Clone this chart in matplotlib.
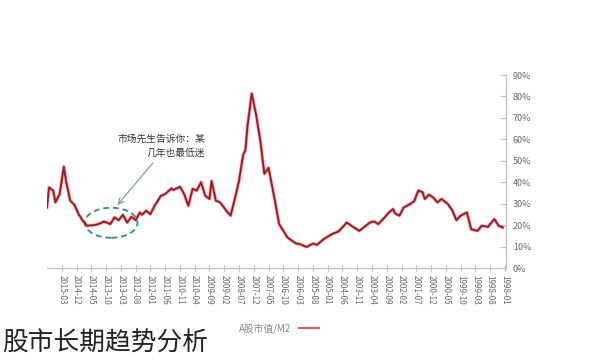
import matplotlib
matplotlib.use("Agg")
import matplotlib.pyplot as plt
from matplotlib.patches import Ellipse
from matplotlib.lines import Line2D

plt.rcParams['font.family'] = ['Noto Sans CJK SC', 'DejaVu Sans']

# month index counted from 1998-01, ratio of A-share market cap to M2 (%)
months = [1, 3, 5, 7, 8, 11, 13, 16, 18, 21, 23, 25, 27, 30, 32, 34, 36, 38, 39, 41,
          42, 43, 45, 48, 50, 52, 53, 55, 57, 60, 62, 64, 67, 69, 72, 75, 77, 79, 82, 86,
          89, 91, 94, 97, 99, 103, 105, 107, 109, 112, 114, 116, 118, 120, 122, 123, 124, 126, 128, 130,
          132, 135, 137, 139, 140, 142, 144, 146, 148, 150, 152, 154, 157, 158, 161, 163, 166, 168, 170, 172,
          173, 175, 177, 179, 181, 183, 185, 187, 190, 192, 194, 198, 200, 202, 204, 206, 208, 209, 211, 213,
          214, 216, 217]
ratio = [18.9, 19.7, 22.8, 20.5, 19.2, 19.7, 17.3, 18.1, 25.9, 24.4, 22.3, 27.0, 29.8, 32.2, 30.6, 32.9, 34.2, 32.2, 35.3, 36.1,
         33.7, 31.1, 29.8, 28.2, 24.4, 25.4, 27.5, 25.9, 23.6, 20.5, 21.7, 21.2, 18.9, 17.3, 19.2, 21.2, 18.9, 17.0, 15.8, 13.4,
         10.8, 11.4, 9.8, 11.1, 11.4, 14.2, 17.3, 20.5, 31.4, 46.7, 43.9, 60.0, 72.0, 81.4, 66.0, 54.8, 53.0, 40.7, 32.2, 24.4,
         26.7, 30.6, 31.4, 40.6, 32.2, 33.7, 40.0, 36.1, 36.9, 29.0, 34.5, 37.9, 36.4, 37.1, 34.5, 33.7, 29.0, 25.1, 26.7, 24.8,
         25.9, 22.3, 23.9, 21.2, 24.8, 22.3, 23.6, 20.5, 21.7, 20.7, 20.1, 19.7, 22.0, 25.1, 29.5, 31.4, 40.7, 47.3, 34.5, 30.6,
         36.0, 37.6, 28.2]

tick_labels = ['1998-01', '1998-08', '1999-03', '1999-10', '2000-05', '2000-12', '2001-07', '2002-02',
               '2002-09', '2003-04', '2003-11', '2004-06', '2005-01', '2005-08', '2006-03', '2006-10',
               '2007-05', '2007-12', '2008-07', '2009-02', '2009-09', '2010-04', '2010-11', '2011-06',
               '2012-01', '2012-08', '2013-03', '2013-10', '2014-05', '2014-12', '2015-03']
y_ticks = [0, 10, 20, 30, 40, 50, 60, 70, 80, 90]

fig = plt.figure(figsize=(6, 3.61), dpi=100)
ax = fig.add_axes([0.0783, 0.2576, 0.765, 0.5346])

ax.plot(months, ratio, color='#e8303a', lw=2.4, alpha=0.45, solid_joinstyle='round')
ax.plot(months, ratio, color='#9e1620', lw=1.3, solid_joinstyle='round')

# mirrored layout: time runs right to left, value axis on the right
ax.set_xlim(217, -0.5)
ax.set_ylim(0, 90)

gray = '#bdbdbd'
for s in ['top', 'left']:
    ax.spines[s].set_visible(False)
for s in ['bottom', 'right']:
    ax.spines[s].set_color(gray)
    ax.spines[s].set_linewidth(0.9)

ax.yaxis.tick_right()
ax.set_yticks(y_ticks)
ax.set_yticklabels([str(v) + '%' for v in y_ticks], fontsize=6.5, color='#666666')
ax.tick_params(axis='y', direction='in', length=4, color=gray, pad=5)

ax.set_xticks(list(range(0, 7 * len(tick_labels), 7)))
ax.set_xticklabels(tick_labels, rotation=-90, fontsize=5.8, color='#666666', va='top', ha='center')
ax.tick_params(axis='x', direction='inout', length=4, color=gray, pad=3)

# annotation around the 2012-2014 low
ax.add_patch(Ellipse((186.6, 21.1), 25, 14, fill=False, edgecolor='#3a9a78', lw=1.4, ls=(0, (3, 2))))
ax.annotate('', xy=(184.5, 28.3), xytext=(166, 50),
            arrowprops=dict(arrowstyle='->', color='#7fa0a0', lw=0.9))
ax.text(142, 57, '市场先生告诉你：某\n几年也最低迷', fontsize=7, color='#333333',
        ha='right', va='center', linespacing=1.5)

handle = Line2D([], [], color='#e0505a', lw=1.4)
fig.legend([handle], ['A股市值/M2'], loc='center', bbox_to_anchor=(0.465, 0.091),
           frameon=False, markerfirst=False, fontsize=7, handlelength=2.0,
           labelcolor='#888888')

fig.text(0.003, 0.047, '股市长期趋势分析', fontsize=18.5, color='#222222', va='center', ha='left')

fig.savefig('out.png', dpi=100)
